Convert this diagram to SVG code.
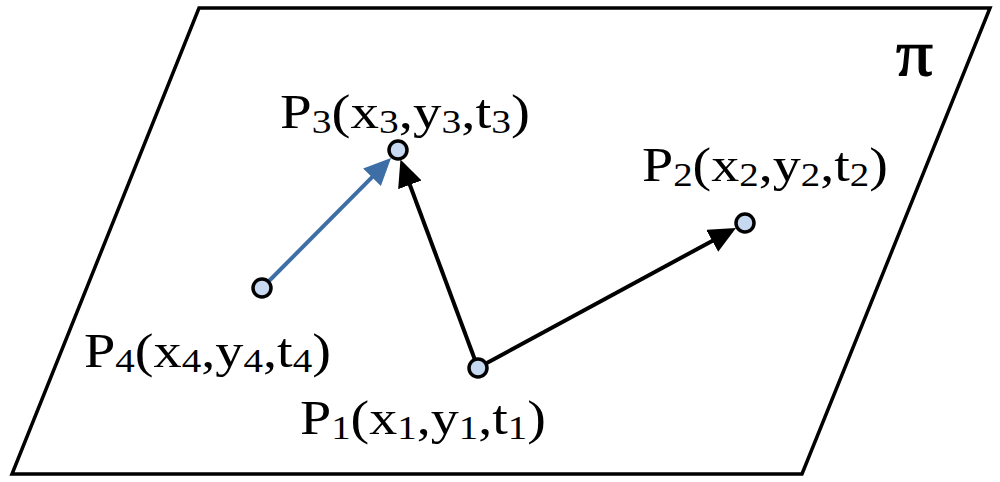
<svg xmlns="http://www.w3.org/2000/svg" width="1000" height="482" viewBox="0 0 1000 482">
<style>
.lbl{font-family:'Liberation Serif','Times New Roman',serif;font-size:49px;fill:#000}
.sub{font-size:34px}
.pi{font-size:66px}
.pt{fill:#c6d9f1;stroke:#000;stroke-width:3.5}
.edge{stroke-width:4;fill:none}
</style>
<defs>
<marker id="ahB" markerUnits="userSpaceOnUse" markerWidth="28" markerHeight="26" refX="22" refY="12.5" orient="auto"><path d="M0,0 L27,12.5 L0,25 z" fill="#000"/></marker>
<marker id="ahU" markerUnits="userSpaceOnUse" markerWidth="28" markerHeight="26" refX="22" refY="12.5" orient="auto"><path d="M0,0 L27,12.5 L0,25 z" fill="#3e6ea6"/></marker>
</defs>
<rect width="1000" height="482" fill="#fff"/>
<g id="plane">
<polygon points="199,8 990,8 802,474 12,474" fill="none" stroke="#000" stroke-width="3.5" stroke-linejoin="miter"/>
<text class="lbl pi" x="896" y="75" textLength="37" lengthAdjust="spacingAndGlyphs" stroke="#000" stroke-width="1.2">π</text>
</g>
<g id="connectors">
<line class="edge" x1="268" y1="282" x2="387.5" y2="161.6" stroke="#3e6ea6" marker-end="url(#ahU)"/>
<line class="edge" x1="475" y1="360" x2="402.2" y2="164.2" stroke="#000" marker-end="url(#ahB)"/>
<line class="edge" x1="485" y1="364" x2="731.6" y2="230.4" stroke="#000" marker-end="url(#ahB)"/>
</g>
<g id="P3">
<circle class="pt" cx="398" cy="150" r="9"/>
<text class="lbl" x="280" y="128" textLength="250" lengthAdjust="spacingAndGlyphs">P<tspan class="sub" dy="5">3</tspan><tspan dy="-5">(x</tspan><tspan class="sub" dy="5">3</tspan><tspan dy="-5">,y</tspan><tspan class="sub" dy="5">3</tspan><tspan dy="-5">,t</tspan><tspan class="sub" dy="5">3</tspan><tspan dy="-5">)</tspan></text>
</g>
<g id="P2">
<circle class="pt" cx="745" cy="223" r="9"/>
<text class="lbl" x="642" y="181" textLength="246" lengthAdjust="spacingAndGlyphs">P<tspan class="sub" dy="5">2</tspan><tspan dy="-5">(x</tspan><tspan class="sub" dy="5">2</tspan><tspan dy="-5">,y</tspan><tspan class="sub" dy="5">2</tspan><tspan dy="-5">,t</tspan><tspan class="sub" dy="5">2</tspan><tspan dy="-5">)</tspan></text>
</g>
<g id="P4">
<circle class="pt" cx="262" cy="288" r="9"/>
<text class="lbl" x="84" y="367" textLength="247" lengthAdjust="spacingAndGlyphs">P<tspan class="sub" dy="5">4</tspan><tspan dy="-5">(x</tspan><tspan class="sub" dy="5">4</tspan><tspan dy="-5">,y</tspan><tspan class="sub" dy="5">4</tspan><tspan dy="-5">,t</tspan><tspan class="sub" dy="5">4</tspan><tspan dy="-5">)</tspan></text>
</g>
<g id="P1">
<circle class="pt" cx="478" cy="368" r="9"/>
<text class="lbl" x="300" y="434" textLength="246" lengthAdjust="spacingAndGlyphs">P<tspan class="sub" dy="5">1</tspan><tspan dy="-5">(x</tspan><tspan class="sub" dy="5">1</tspan><tspan dy="-5">,y</tspan><tspan class="sub" dy="5">1</tspan><tspan dy="-5">,t</tspan><tspan class="sub" dy="5">1</tspan><tspan dy="-5">)</tspan></text>
</g>
</svg>
